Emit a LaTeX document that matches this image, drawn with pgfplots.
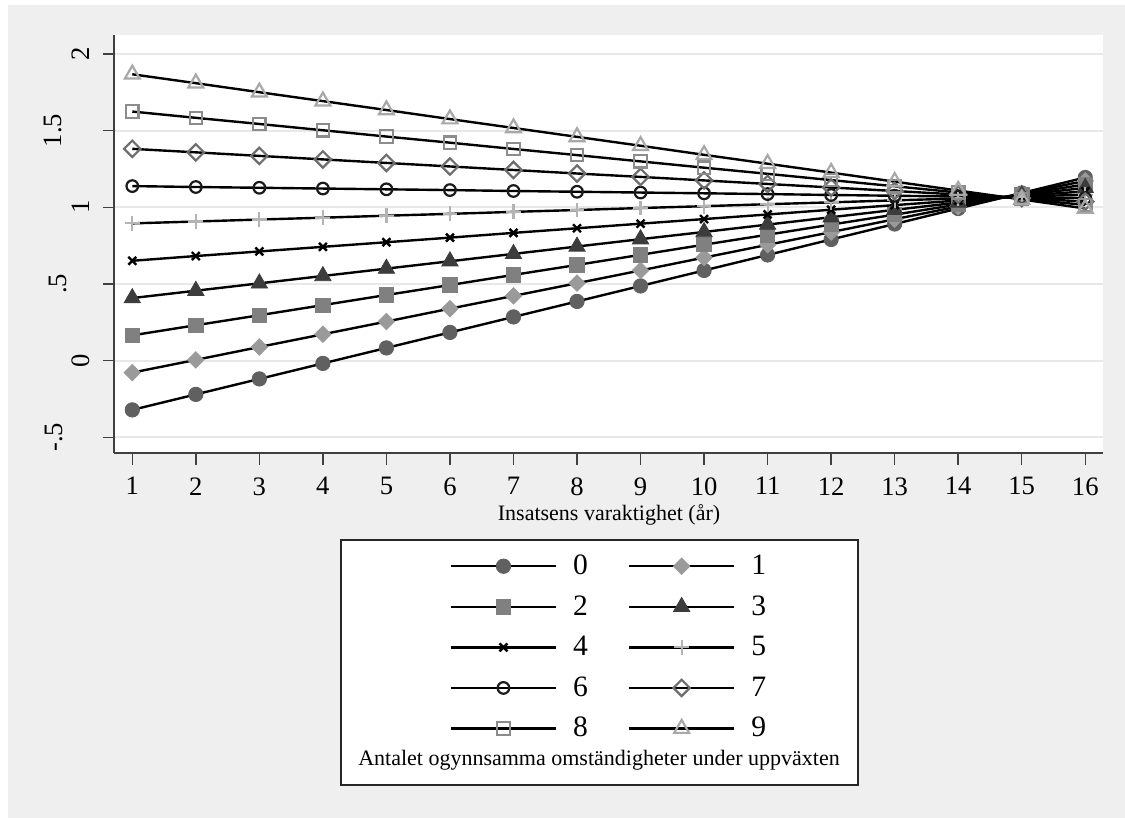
\documentclass[border=0pt]{standalone}
\usepackage{fontspec}
\setmainfont{Liberation Serif}
\usepackage{pgfplots}
\pgfplotsset{compat=1.18}
\usepackage{pgfplotstable}

\definecolor{bggray}{HTML}{EFEFEF}
\definecolor{gridgray}{HTML}{E8E8E8}
\definecolor{axisgray}{HTML}{404040}
\definecolor{c0}{HTML}{606060}
\definecolor{c1}{HTML}{9A9A9A}
\definecolor{c2}{HTML}{808080}
\definecolor{c3}{HTML}{3C3C3C}
\definecolor{c4}{HTML}{000000}
\definecolor{c5}{HTML}{B4B4B4}
\definecolor{c6}{HTML}{1A1A1A}
\definecolor{c7}{HTML}{6E6E6E}
\definecolor{c8}{HTML}{8C8C8C}
\definecolor{c9}{HTML}{A8A8A8}

\pgfplotstableread{
x s0 s1 s2 s3 s4 s5 s6 s7 s8 s9
1 -0.321 -0.078 0.165 0.408 0.651 0.895 1.138 1.381 1.624 1.867
2 -0.220 0.005 0.231 0.456 0.682 0.907 1.132 1.358 1.583 1.809
3 -0.119 0.089 0.296 0.504 0.712 0.920 1.127 1.335 1.543 1.750
4 -0.018 0.172 0.362 0.552 0.742 0.932 1.122 1.312 1.502 1.692
5 0.083 0.255 0.428 0.600 0.772 0.945 1.117 1.289 1.461 1.634
6 0.184 0.339 0.493 0.648 0.802 0.957 1.112 1.266 1.421 1.575
7 0.285 0.422 0.559 0.696 0.833 0.970 1.106 1.243 1.380 1.517
8 0.386 0.505 0.624 0.744 0.863 0.982 1.101 1.220 1.340 1.459
9 0.487 0.588 0.690 0.792 0.893 0.995 1.096 1.198 1.299 1.401
10 0.588 0.672 0.756 0.839 0.923 1.007 1.091 1.175 1.258 1.342
11 0.689 0.755 0.821 0.887 0.953 1.020 1.086 1.152 1.218 1.284
12 0.790 0.838 0.887 0.935 0.984 1.032 1.080 1.129 1.177 1.226
13 0.891 0.922 0.952 0.983 1.014 1.045 1.075 1.106 1.137 1.167
14 0.992 1.005 1.018 1.031 1.044 1.057 1.070 1.083 1.096 1.109
15 1.093 1.088 1.084 1.079 1.074 1.070 1.065 1.060 1.055 1.051
16 1.194 1.172 1.149 1.127 1.104 1.082 1.060 1.037 1.015 0.992
}\datatable

\begin{document}
\begin{tikzpicture}
\begin{scope}[x=0.5pt,y=-0.5pt]
\path[use as bounding box] (0,0) rectangle (1125,818);
\fill[white] (0,0) rectangle (1125,818);
\fill[bggray] (8,5) rectangle (1125,818);
\filldraw[fill=white, draw=black!85, line width=0.8pt] (341,540) rectangle (858,785);
\node[anchor=base, font=\fontsize{11}{13}\selectfont, inner sep=0pt] at (599,765.7) {Antalet ogynnsamma omständigheter under uppväxten};
\end{scope}
\begin{axis}[
  at={(57pt,-226.65pt)}, anchor=south west,
  scale only axis, width=494.65pt, height=209.15pt,
  xmin=0.712, xmax=16.284, ymin=-0.604, ymax=2.123,
  axis background/.style={fill=white},
  axis x line*=bottom, axis y line*=left,
  axis line style={color=axisgray, line width=1pt, -},
  xtick={1,...,16},
  ytick={-0.5,0,0.5,1,1.5,2},
  yticklabels={{\raisebox{13.5pt}{-.5}},0,{\raisebox{11.5pt}{.5}},1,{\raisebox{14pt}{1.5}},2},
  tick align=outside,
  major tick length=5.7pt,
  tick style={color=axisgray, line width=0.75pt},
  ymajorgrids,
  major grid style={color=gridgray, line width=1pt},
  /pgf/number format/assume math mode=true,
  tick label style={font=\fontsize{13.3}{15}\selectfont, inner sep=0pt},
  xticklabel style={anchor=north},
  xticklabel shift=6.15pt,
  yticklabel style={rotate=90, anchor=south},
  yticklabel shift=6.3pt,
  xlabel={Insatsens varaktighet (år)},
  xlabel style={font=\fontsize{11}{13}\selectfont, at={(axis description cs:0.5004,-0.1595)}, anchor=base, inner sep=0pt},
  legend columns=2,
  legend cell align=left,
  legend style={at={(axis description cs:0.4993,-0.4640)}, anchor=center, draw=none, fill=none, inner sep=0pt,
    font=\fontsize{14.8}{16}\selectfont, row sep=9pt,
    nodes={inner sep=0pt},
    /tikz/every odd column/.append style={column sep=8pt},
    /tikz/every even column/.append style={column sep=20pt}},
  legend image code/.code={\draw[#1, mark repeat=2, mark phase=2] plot coordinates {(0pt,0pt) (26.25pt,0pt) (52.5pt,0pt)};},
  every axis plot/.append style={black, line width=1.2pt},
]
\addplot[mark=*, mark size=3.6pt, mark options={fill=c0, draw=c0, line width=0.4pt}] table[x=x,y=s0]{\datatable};
\addlegendentry{0}
\addplot[mark=diamond*, mark size=4.1pt, mark options={xscale=1.333, fill=c1, draw=c1, line width=0.4pt}] table[x=x,y=s1]{\datatable};
\addlegendentry{1}
\addplot[mark=square*, mark size=3.6pt, mark options={fill=c2, draw=c2, line width=0.4pt}] table[x=x,y=s2]{\datatable};
\addlegendentry{2}
\addplot[mark=triangle*, mark size=4.7pt, mark options={fill=c3, draw=c3, line width=0.4pt}] table[x=x,y=s3]{\datatable};
\addlegendentry{3}
\addplot[mark=x, mark size=2.8pt, mark options={draw=c4, line width=1.2pt}] table[x=x,y=s4]{\datatable};
\addlegendentry{4}
\addplot[mark=+, mark size=3.7pt, mark options={draw=c5, line width=1.1pt}] table[x=x,y=s5]{\datatable};
\addlegendentry{5}
\addplot[mark=o, mark size=2.9pt, mark options={draw=c6, line width=1.1pt}] table[x=x,y=s6]{\datatable};
\addlegendentry{6}
\addplot[mark=diamond, mark size=4.1pt, mark options={xscale=1.333, draw=c7, line width=1.1pt}] table[x=x,y=s7]{\datatable};
\addlegendentry{7}
\addplot[mark=square, mark size=3.1pt, mark options={draw=c8, line width=1.1pt}] table[x=x,y=s8]{\datatable};
\addlegendentry{8}
\addplot[mark=triangle, mark size=4.3pt, mark options={draw=c9, line width=1.1pt}] table[x=x,y=s9]{\datatable};
\addlegendentry{9}
\end{axis}
\end{tikzpicture}
\end{document}
